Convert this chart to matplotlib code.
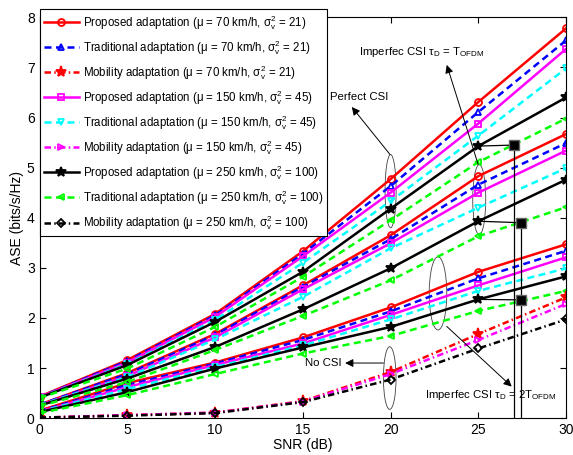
import numpy as np
import matplotlib.pyplot as plt
from matplotlib.patches import Ellipse

plt.rcParams['font.family'] = ['Liberation Sans', 'DejaVu Sans']
plt.rcParams['mathtext.fontset'] = 'custom'
plt.rcParams['mathtext.rm'] = 'Liberation Sans'

snr = [0, 5, 10, 15, 20, 25, 30]

# perfect CSI
p70_perf = [0.43, 1.16, 2.08, 3.33, 4.77, 6.31, 7.78]
t70_perf = [0.42, 1.14, 2.05, 3.28, 4.63, 6.11, 7.54]
p150_perf = [0.42, 1.11, 2.02, 3.23, 4.50, 5.88, 7.37]
t150_perf = [0.41, 1.08, 1.96, 3.10, 4.33, 5.64, 6.98]
p250_perf = [0.41, 1.06, 1.92, 2.92, 4.18, 5.43, 6.40]
t250_perf = [0.40, 0.99, 1.82, 2.82, 3.95, 5.11, 5.98]

# imperfect CSI, tau_D = T_OFDM
p70_t1 = [0.27, 0.90, 1.68, 2.65, 3.65, 4.83, 5.67]
t70_t1 = [0.27, 0.88, 1.66, 2.62, 3.57, 4.66, 5.49]
p150_t1 = [0.26, 0.84, 1.61, 2.57, 3.49, 4.50, 5.34]
t150_t1 = [0.26, 0.82, 1.57, 2.42, 3.39, 4.20, 4.99]
p250_t1 = [0.25, 0.79, 1.42, 2.17, 2.99, 3.93, 4.76]
t250_t1 = [0.24, 0.72, 1.36, 2.04, 2.75, 3.63, 4.21]

# imperfect CSI, tau_D = 2T_OFDM
p70_t2 = [0.15, 0.70, 1.11, 1.61, 2.21, 2.92, 3.47]
t70_t2 = [0.14, 0.66, 1.09, 1.56, 2.13, 2.79, 3.34]
p150_t2 = [0.13, 0.62, 1.06, 1.49, 2.06, 2.65, 3.21]
t150_t2 = [0.13, 0.58, 1.02, 1.45, 1.97, 2.54, 2.99]
p250_t2 = [0.12, 0.52, 0.99, 1.41, 1.82, 2.37, 2.83]
t250_t2 = [0.10, 0.46, 0.88, 1.29, 1.64, 2.14, 2.54]

# no CSI (mobility adaptation)
m70 = [0.01, 0.06, 0.11, 0.34, 0.92, 1.68, 2.41]
m150 = [0.01, 0.06, 0.11, 0.33, 0.88, 1.56, 2.28]
m250 = [0.01, 0.05, 0.10, 0.32, 0.77, 1.39, 1.97]

labels = [
    r'Proposed adaptation ($\mathregular{\mu}$ = 70 km/h, $\mathregular{\sigma_v^2}$ = 21)',
    r'Traditional adaptation ($\mathregular{\mu}$ = 70 km/h, $\mathregular{\sigma_v^2}$ = 21)',
    r'Mobility adaptation ($\mathregular{\mu}$ = 70 km/h, $\mathregular{\sigma_v^2}$ = 21)',
    r'Proposed adaptation ($\mathregular{\mu}$ = 150 km/h, $\mathregular{\sigma_v^2}$ = 45)',
    r'Traditional adaptation ($\mathregular{\mu}$ = 150 km/h, $\mathregular{\sigma_v^2}$ = 45)',
    r'Mobility adaptation ($\mathregular{\mu}$ = 150 km/h, $\mathregular{\sigma_v^2}$ = 45)',
    r'Proposed adaptation ($\mathregular{\mu}$ = 250 km/h, $\mathregular{\sigma_v^2}$ = 100)',
    r'Traditional adaptation ($\mathregular{\mu}$ = 250 km/h, $\mathregular{\sigma_v^2}$ = 100)',
    r'Mobility adaptation ($\mathregular{\mu}$ = 250 km/h, $\mathregular{\sigma_v^2}$ = 100)',
]

# black square markers (figure annotation)
sq_x = [27.05, 27.42, 27.42]
sq_y = [5.45, 3.90, 2.36]

fig = plt.figure(figsize=(5.73, 4.55), dpi=100)
ax = fig.add_axes([0.069, 0.081, 0.919, 0.881])

lw = 1.8
ms = 5
red, blue, mag, cyan, grn = '#ff0000', '#0000ff', '#ff00ff', '#00ffff', '#00ff00'
dash = (0, (2.8, 1.8))
dashdot = (0, (2.6, 1.3, 0.6, 1.3))

groups = [
    (p70_perf, p70_t1, p70_t2, dict(color=red, ls='-', marker='o', mfc='none')),
    (t70_perf, t70_t1, t70_t2, dict(color=blue, ls=dash, marker='^', mfc='none')),
    (p150_perf, p150_t1, p150_t2, dict(color=mag, ls='-', marker='s', mfc='none')),
    (t150_perf, t150_t1, t150_t2, dict(color=cyan, ls=dash, marker='v', mfc='none')),
    (p250_perf, p250_t1, p250_t2, dict(color='k', ls='-', marker='*', mfc='k')),
    (t250_perf, t250_t1, t250_t2, dict(color=grn, ls=dash, marker='<', mfc='none')),
]
handles = []
for ys in groups:
    st = ys[3]
    h = None
    for y in ys[:3]:
        l, = ax.plot(snr, y, lw=lw, ms=ms if st['marker'] != '*' else 7, mew=1.3, **st)
        h = h or l
    handles.append(h)

mob = []
for y, c, mk, mf in [(m70, red, '*', red), (m150, mag, '>', 'none'), (m250, 'k', 'D', 'none')]:
    l, = ax.plot(snr, y, color=c, ls=dashdot, lw=lw, marker=mk, mfc=mf,
                 ms=8 if mk == '*' else (4 if mk == 'D' else ms), mew=1.3)
    mob.append(l)

order = [handles[0], handles[1], mob[0], handles[2], handles[3], mob[1],
         handles[4], handles[5], mob[2]]

# annotation squares and connector lines
ax.plot([25, sq_x[0]], [p250_perf[5], sq_y[0]], color='k', lw=0.9)
ax.plot([sq_x[0], sq_x[0]], [sq_y[0], 0], color='k', lw=0.9)
ax.plot([25, sq_x[1]], [p250_t1[5], sq_y[1]], color='k', lw=0.9)
ax.plot([sq_x[1], sq_x[1]], [sq_y[1], 0], color='k', lw=0.9)
ax.plot([25, sq_x[2]], [p250_t2[5], sq_y[2]], color='k', lw=0.9)
ax.plot(sq_x, sq_y, ls='none', marker='s', color='k', mec='0.4', ms=6.5)

# ellipses
for cx, cy, w, h in [(20.0, 4.53, 0.63, 1.46), (25.05, 4.36, 0.74, 1.40),
                     (22.7, 2.49, 1.0, 1.46), (19.95, 0.80, 0.72, 1.25)]:
    ax.add_patch(Ellipse((cx, cy), w, h, fill=False, ec='0.25', lw=0.6))

ap = dict(arrowstyle='-|>', color='k', lw=0.7, mutation_scale=12, shrinkA=0, shrinkB=0)
ax.annotate('', xy=(17.79, 6.21), xytext=(19.97, 5.26), arrowprops=ap)
ax.annotate('', xy=(23.2, 7.05), xytext=(24.99, 5.06), arrowprops=ap)
ax.annotate('', xy=(26.9, 0.63), xytext=(23.2, 1.83), arrowprops=ap)
ax.annotate('', xy=(17.41, 1.10), xytext=(19.59, 1.10), arrowprops=ap)

ax.text(16.55, 6.40, 'Perfect CSI', fontsize=8.2, va='center')
ax.text(18.2, 7.31, r'Imperfec CSI $\mathregular{\tau_D}$ = $\mathregular{T_{OFDM}}$',
        fontsize=8.2, va='center')
ax.text(21.97, 0.47, r'Imperfec CSI $\mathregular{\tau_D}$ = $\mathregular{2T_{OFDM}}$',
        fontsize=8.2, va='center')
ax.text(15.13, 1.10, 'No CSI', fontsize=8.2, va='center')

ax.set_xlim(0, 30)
ax.set_ylim(0, 8)
ax.set_xticks(range(0, 31, 5))
ax.set_yticks(range(0, 9))
ax.tick_params(direction='in', top=True, right=True, labelsize=10, length=4)
ax.set_xlabel('SNR (dB)', fontsize=10, labelpad=1)
ax.set_ylabel('ASE (bits/s/Hz)', fontsize=10, labelpad=2)

leg = fig.legend(order, labels, loc='upper left', bbox_to_anchor=(40 / 573, 1 - 9 / 455),
                 fontsize=8.3, handlelength=3.0, handletextpad=0.35, labelspacing=0.55,
                 borderpad=0.35, borderaxespad=0, fancybox=False, framealpha=1,
                 edgecolor='k')
leg.get_frame().set_linewidth(0.8)

fig.savefig('out.png', dpi=100)
